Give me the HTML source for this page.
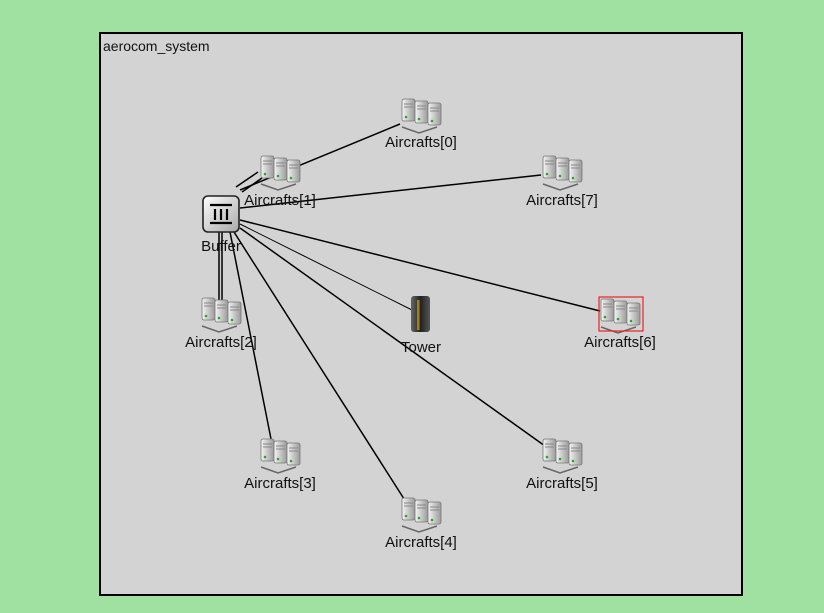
<!DOCTYPE html>
<html><head><meta charset="utf-8"><style>
html,body{margin:0;padding:0;background:#a0e0a0;}
svg{display:block;}
text{font-family:"Liberation Sans",sans-serif;font-size:15px;fill:#111;}
</style></head><body>
<svg width="824" height="613" viewBox="0 0 824 613" xmlns="http://www.w3.org/2000/svg">
<defs>
<linearGradient id="sg" x1="0" x2="1"><stop offset="0" stop-color="#f4f4f4"/><stop offset="1" stop-color="#9a9a9a"/></linearGradient>
<linearGradient id="bg" x1="0" y1="0" x2="1" y2="1"><stop offset="0" stop-color="#ffffff"/><stop offset="1" stop-color="#a8a8a8"/></linearGradient>
<linearGradient id="tg" x1="0" x2="1"><stop offset="0" stop-color="#666"/><stop offset="0.5" stop-color="#222"/><stop offset="1" stop-color="#555"/></linearGradient>
<g id="srv">
<rect x="0" y="0" width="13" height="22" rx="2" fill="url(#sg)" stroke="#777" stroke-width="0.8"/>
<line x1="2" y1="5" x2="11" y2="5" stroke="#888"/>
<line x1="2" y1="8" x2="11" y2="8" stroke="#888"/>
<circle cx="4" cy="18" r="1.3" fill="#2a2"/>
</g>
<g id="ac">
<path d="M-19 14 L-2 20 L16 14" stroke="#666" stroke-width="1.5" fill="none"/>
<use href="#srv" x="-19" y="-14"/>
<use href="#srv" x="-6" y="-12"/>
<use href="#srv" x="7" y="-10"/>
</g>
</defs>
<rect x="100" y="33" width="642" height="562" fill="#d3d3d3" stroke="#000" stroke-width="2"/>
<text x="103" y="51" style="font-size:14px">aerocom_system</text>
<g stroke="#000" stroke-width="1.5" fill="none">
<line x1="240" y1="190" x2="400" y2="124"/>
<line x1="242" y1="192" x2="262" y2="178"/>
<line x1="236" y1="187" x2="258" y2="172"/>
<line x1="240" y1="208" x2="541" y2="175"/>
<line x1="240" y1="220" x2="600" y2="311"/>
<line x1="219" y1="232" x2="219" y2="302"/>
<line x1="222" y1="232" x2="222" y2="302"/>
<line x1="230" y1="232" x2="272" y2="444"/>
<line x1="234" y1="232" x2="406" y2="502"/>
<line x1="240" y1="228" x2="545" y2="446"/>
</g>
<line x1="240" y1="224" x2="412" y2="310" stroke="#000" stroke-width="1"/>
<use href="#ac" x="421" y="113"/>
<use href="#ac" x="280" y="170"/>
<use href="#ac" x="562" y="170"/>
<use href="#ac" x="221" y="312"/>
<use href="#ac" x="620" y="313"/>
<use href="#ac" x="280" y="453"/>
<use href="#ac" x="421" y="512"/>
<use href="#ac" x="562" y="453"/>
<rect x="599" y="297" width="44" height="34" fill="none" stroke="#e22" stroke-width="1.2"/>
<rect x="203" y="196" width="36" height="36" rx="5" fill="url(#bg)" stroke="#222" stroke-width="1.6"/>
<g stroke="#000" stroke-width="2.2"><line x1="210" y1="205" x2="232" y2="205"/><line x1="210" y1="223" x2="232" y2="223"/>
<line x1="215" y1="209" x2="215" y2="220"/><line x1="221" y1="209" x2="221" y2="220"/><line x1="227" y1="209" x2="227" y2="220"/></g>
<rect x="411" y="296" width="19" height="36" rx="3" fill="url(#tg)"/>
<line x1="418" y1="300" x2="418" y2="330" stroke="#c90" stroke-width="1.5"/>
<line x1="419.5" y1="300" x2="419.5" y2="330" stroke="#c22" stroke-width="1"/>
<g text-anchor="middle">
<text x="421" y="147">Aircrafts[0]</text>
<text x="280" y="205">Aircrafts[1]</text>
<text x="562" y="205">Aircrafts[7]</text>
<text x="221" y="251">Buffer</text>
<text x="221" y="347">Aircrafts[2]</text>
<text x="620" y="347">Aircrafts[6]</text>
<text x="421" y="352">Tower</text>
<text x="280" y="488">Aircrafts[3]</text>
<text x="562" y="488">Aircrafts[5]</text>
<text x="421" y="547">Aircrafts[4]</text>
</g>
</svg>
</body></html>
